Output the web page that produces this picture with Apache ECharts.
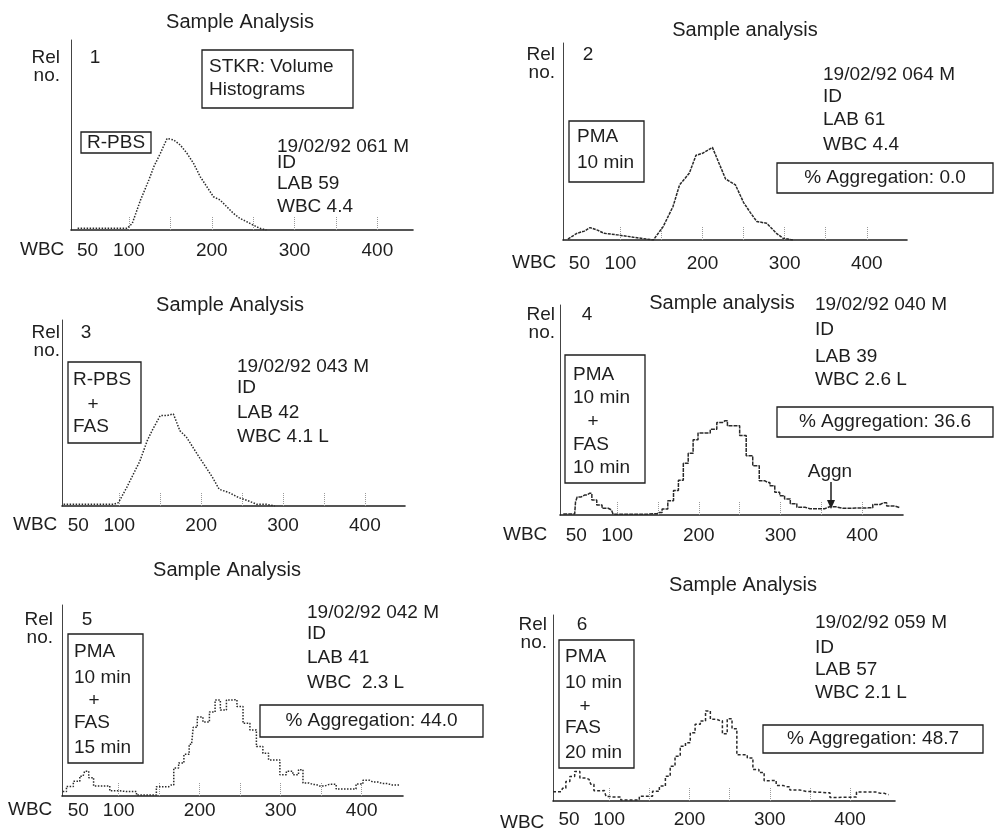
<!DOCTYPE html>
<html>
<head>
<meta charset="utf-8">
<script src="https://cdn.jsdelivr.net/npm/echarts@6/dist/echarts.min.js"></script>
<style>
html, body { margin: 0; padding: 0; background: #fff; }
#main { width: 994px; height: 829px; }
</style>
</head>
<body>
<div id="main"></div>
<script>
// tick values on the WBC axis
var labelTicks = [50, 100, 200, 300, 400];
var minorTicks = [100, 150, 200, 250, 300, 350, 400];

// 1: R-PBS
var p1Size = [38, 66, 98, 104, 114, 124, 130, 138, 146, 154, 162, 170, 178, 186, 194, 202, 210, 218, 226, 234, 242, 250, 258, 266];
var p1Rel = [0.9, 0.9, 0.9, 3.5, 15.8, 26.3, 33.3, 40.4, 48.2, 47.4, 44.7, 40.4, 35.1, 28.1, 22.8, 17.5, 15.8, 12.3, 8.8, 6.1, 4.4, 2.6, 0.9, 0];

// 2: PMA 10 min
var p2Size = [36, 47, 56, 63, 72, 80, 96, 116, 140, 152, 164, 172, 184, 192, 200, 208, 212, 220, 228, 240, 250, 258, 266, 278, 290, 298, 310];
var p2Rel = [0.5, 3.4, 4.5, 6.3, 5, 3.4, 2.6, 1.4, 0, 6.8, 17, 28, 34, 43, 44, 46, 47, 39, 31, 28, 19, 14, 9.4, 8.5, 3.4, 0.9, 0];

// 3: R-PBS + FAS
var p3Size = [32, 64, 93, 99, 109, 117, 125, 134, 140, 150, 158, 166, 174, 182, 190, 198, 206, 214, 222, 234, 246, 258, 268, 280, 290];
var p3Rel = [0.9, 0.9, 0.9, 1.8, 9.9, 17, 24, 35, 40.5, 48.6, 48.6, 49.5, 40.5, 37, 31.5, 26, 20.7, 15.3, 9, 7.2, 4.5, 2.7, 0.9, 0.9, 0];

// 4: PMA 10 min + FAS 10 min
var p4Size = [34, 48, 50, 52, 60, 66, 72, 78, 85, 93, 97, 121, 146, 152, 158, 166, 172, 178, 184, 190, 196, 202, 210, 218, 226, 232, 238, 246, 254, 262, 270, 278, 284, 290, 296, 302, 308, 316, 324, 336, 348, 360, 376, 392, 408, 418, 426, 434, 446];
var p4Rel = [0.5, 0.5, 6.2, 8.6, 9.5, 10.3, 7.1, 4.8, 3.2, 2.4, 0.4, 0.3, 0.6, 1.2, 2.8, 6.8, 11.7, 16.5, 24.6, 29.4, 35.8, 39, 39.1, 40.8, 44, 44.9, 42.5, 42.5, 37.8, 28.2, 23.4, 16.3, 15.5, 13.9, 10.8, 9.2, 7.6, 5.3, 3.7, 3, 3, 3.9, 3.2, 3.3, 3.4, 5, 5.8, 4.3, 3.5];

// 5: PMA 10 min + FAS 15 min
var p5Size = [31, 40, 48, 56, 60, 66, 72, 85, 93, 110, 134, 159, 165, 171, 177, 184, 190, 194, 200, 208, 216, 222, 229, 237, 243, 249, 258, 266, 274, 282, 288, 295, 303, 311, 319, 325, 330, 340, 348, 360, 377, 389, 397, 406, 414, 426, 438, 448];
var p5Rel = [2.3, 5, 7.7, 10.4, 13, 9.6, 5.2, 5.3, 2.7, 2.3, 0.5, 4.9, 5.8, 14.6, 17.3, 21.8, 27.1, 36, 41.3, 38.7, 44, 50.2, 45, 50.3, 50.4, 46.9, 38.1, 34.6, 25.9, 22.4, 18.9, 18.9, 11.1, 12.9, 11.1, 13.8, 6.8, 6, 5.2, 6.1, 3.6, 3.7, 6.3, 8.2, 7.3, 6.5, 5.7, 5.8];

// 6: PMA 10 min + FAS 20 min
var p6Size = [30, 40, 44, 48, 54, 60, 67, 75, 79, 83, 94, 98, 104, 125, 150, 158, 167, 173, 179, 185, 192, 198, 204, 210, 217, 223, 229, 238, 244, 250, 256, 262, 269, 275, 283, 290, 296, 304, 312, 321, 329, 346, 358, 371, 379, 392, 404, 412, 425, 438, 448];
var p6Rel = [5, 5, 6.9, 10.5, 13.2, 15.9, 12.4, 11.6, 9, 5.5, 5.6, 2.4, 2.1, 0.5, 2.5, 5.2, 8, 13.3, 18.7, 24.1, 29.5, 31.3, 36.7, 41.2, 43, 48.4, 44, 43.2, 36.1, 44.2, 38.9, 24.8, 24.8, 23.1, 17, 15.3, 10.9, 11, 8.4, 7.6, 5.9, 5.1, 4.7, 4.4, 1.9, 2, 2.1, 4.8, 4.9, 4.1, 3.4];

var titles = ['Sample Analysis', 'Sample analysis', 'Sample Analysis', 'Sample analysis', 'Sample Analysis', 'Sample Analysis'];
var infoLines = [
  ['19/02/92 061 M', 'ID', 'LAB 59', 'WBC 4.4'],
  ['19/02/92 064 M', 'ID', 'LAB 61', 'WBC 4.4'],
  ['19/02/92 043 M', 'ID', 'LAB 42', 'WBC 4.1 L'],
  ['19/02/92 040 M', 'ID', 'LAB 39', 'WBC 2.6 L'],
  ['19/02/92 042 M', 'ID', 'LAB 41', 'WBC  2.3 L'],
  ['19/02/92 059 M', 'ID', 'LAB 57', 'WBC 2.1 L']
];
var conditions = [
  ['R-PBS'],
  ['PMA', '10 min'],
  ['R-PBS', '+', 'FAS'],
  ['PMA', '10 min', '+', 'FAS', '10 min'],
  ['PMA', '10 min', '+', 'FAS', '15 min'],
  ['PMA', '10 min', '+', 'FAS', '20 min']
];
var aggregation = [null, '0.0', null, '36.6', '44.0', '48.7'];

var sizes = [p1Size, p2Size, p3Size, p4Size, p5Size, p6Size];
var rels = [p1Rel, p2Rel, p3Rel, p4Rel, p5Rel, p6Rel];

var panels = [
  {left: 71, right: 413, top: 40, bottom: 230, xMax: 443, labOff: 20, step: false, dash: 'dotted',
   title: [240, 22], rel: [60, 58], num: [95, 58], wbc: 20,
   info: {x: 277, ys: [147, 163, 184, 207]},
   cond: {box: [81, 132, 151, 153], x: 87, ys: [143]}, agg: null},
  {left: 563, right: 907, top: 43, bottom: 240, xMax: 449, labOff: 23, step: false, dash: [3, 1],
   title: [745, 30], rel: [555, 55], num: [588, 55], wbc: 512,
   info: {x: 823, ys: [75, 97, 120, 145]},
   cond: {box: [569, 121, 644, 182], x: 577, ys: [137, 163]}, agg: [777, 163, 993, 193]},
  {left: 62, right: 405, top: 320, bottom: 506, xMax: 449, labOff: 19, step: false, dash: 'dotted',
   title: [230, 305], rel: [60, 333], num: [86, 333], wbc: 13,
   info: {x: 237, ys: [367, 388, 413, 437]},
   cond: {box: [68, 362, 141, 443], x: 73, ys: [380, 405, 427]}, agg: null},
  {left: 560, right: 903, top: 305, bottom: 515, xMax: 450, labOff: 20, step: 'middle', dash: [4, 1],
   title: [722, 303], rel: [555, 315], num: [587, 315], wbc: 503,
   info: {x: 815, ys: [305, 330, 357, 380]},
   cond: {box: [565, 355, 645, 483], x: 573, ys: [375, 398, 422, 445, 468]}, agg: [777, 407, 993, 437]},
  {left: 62, right: 403, top: 605, bottom: 796, xMax: 451, labOff: 14, step: 'middle', dash: 'dotted',
   title: [227, 570], rel: [53, 620], num: [87, 620], wbc: 8,
   info: {x: 307, ys: [613, 634, 658, 683]},
   cond: {box: [68, 634, 143, 763], x: 74, ys: [652, 678, 701, 723, 748]}, agg: [260, 705, 483, 737]},
  {left: 553, right: 895, top: 615, bottom: 805, xMax: 456, labOff: 18, step: 'middle', dash: [3, 2],
   title: [743, 585], rel: [547, 625], num: [582, 625], wbc: 500,
   info: {x: 815, ys: [623, 648, 670, 693]},
   cond: {box: [559, 640, 634, 768], x: 565, ys: [657, 683, 707, 728, 753]}, agg: [763, 725, 983, 753]}
];

var ink = '#1e1e1e';
var fontFam = '"Liberation Sans", Arial, Helvetica, sans-serif';

function txt(x, y, s, size, align) {
  return {
    type: 'text', x: x, y: y, silent: true,
    style: {
      text: s, font: (size || 19) + 'px ' + fontFam, fill: ink,
      textAlign: align || 'left', textVerticalAlign: 'middle',
      align: align || 'left', verticalAlign: 'middle'
    }
  };
}
function rect(b) {
  return {
    type: 'rect', silent: true,
    shape: {x: b[0], y: b[1], width: b[2] - b[0], height: b[3] - b[1]},
    style: {fill: 'none', stroke: ink, lineWidth: 1.3}
  };
}

var grids = [], xAxes = [], yAxes = [], series = [], graphics = [];

panels.forEach(function (p, i) {
  grids.push({left: p.left, top: p.top, width: p.right - p.left, height: p.bottom - p.top});
  xAxes.push({
    gridIndex: i, type: 'value', min: 30, max: p.xMax,
    axisLine: {show: true, onZero: false, lineStyle: {color: ink, width: 1.6}},
    axisTick: {show: true, inside: true, length: 13, customValues: minorTicks,
      lineStyle: {color: '#9a9a9a', width: 1, type: 'dotted'}},
    axisLabel: {customValues: labelTicks, fontSize: 19, fontFamily: fontFam, color: ink, margin: p.labOff - 9},
    splitLine: {show: false}
  });
  yAxes.push({
    gridIndex: i, type: 'value', min: 0, max: 100,
    axisLine: {show: true, lineStyle: {color: '#444', width: 1}},
    axisTick: {show: false}, axisLabel: {show: false}, splitLine: {show: false}
  });
  series.push({
    type: 'line', xAxisIndex: i, yAxisIndex: i, symbol: 'none', silent: true,
    step: p.step,
    data: sizes[i].map(function (v, k) { return [v, rels[i][k]]; }),
    lineStyle: {color: '#2a2a2a', width: 1.5, type: p.dash}
  });

  graphics.push(txt(p.title[0], p.title[1], titles[i], 20, 'center'));
  graphics.push(txt(p.rel[0], p.rel[1], 'Rel', 19, 'right'));
  graphics.push(txt(p.rel[0], p.rel[1] + 18, 'no.', 19, 'right'));
  graphics.push(txt(p.num[0], p.num[1], String(i + 1), 19, 'center'));
  graphics.push(txt(p.wbc, p.bottom + p.labOff, 'WBC', 19, 'left'));
  infoLines[i].forEach(function (s, k) {
    graphics.push(txt(p.info.x, p.info.ys[k], s, 19, 'left'));
  });
  graphics.push(rect(p.cond.box));
  conditions[i].forEach(function (s, k) {
    if (s === '+') graphics.push(txt(p.cond.x + 20, p.cond.ys[k], s, 19, 'center'));
    else graphics.push(txt(p.cond.x, p.cond.ys[k], s, 19, 'left'));
  });
  if (p.agg) {
    graphics.push(rect(p.agg));
    graphics.push(txt((p.agg[0] + p.agg[2]) / 2, (p.agg[1] + p.agg[3]) / 2,
      '% Aggregation: ' + aggregation[i], 19, 'center'));
  }
});

// box on panel 1
graphics.push(rect([202, 50, 353, 108]));
graphics.push(txt(209, 67, 'STKR: Volume', 19, 'left'));
graphics.push(txt(209, 90, 'Histograms', 19, 'left'));

// aggregate marker on panel 4
graphics.push(txt(830, 472, 'Aggn', 19, 'center'));
graphics.push({type: 'line', silent: true, shape: {x1: 831, y1: 482, x2: 831, y2: 502},
  style: {stroke: ink, lineWidth: 1.5}});
graphics.push({type: 'polygon', silent: true, shape: {points: [[827, 500], [835, 500], [831, 509]]},
  style: {fill: ink}});

var myChart = echarts.init(document.getElementById('main'));
myChart.setOption({
  animation: false,
  backgroundColor: '#fff',
  grid: grids,
  xAxis: xAxes,
  yAxis: yAxes,
  series: series,
  graphic: graphics
});
window.addEventListener('resize', function () { myChart.resize(); });
</script>
</body>
</html>
